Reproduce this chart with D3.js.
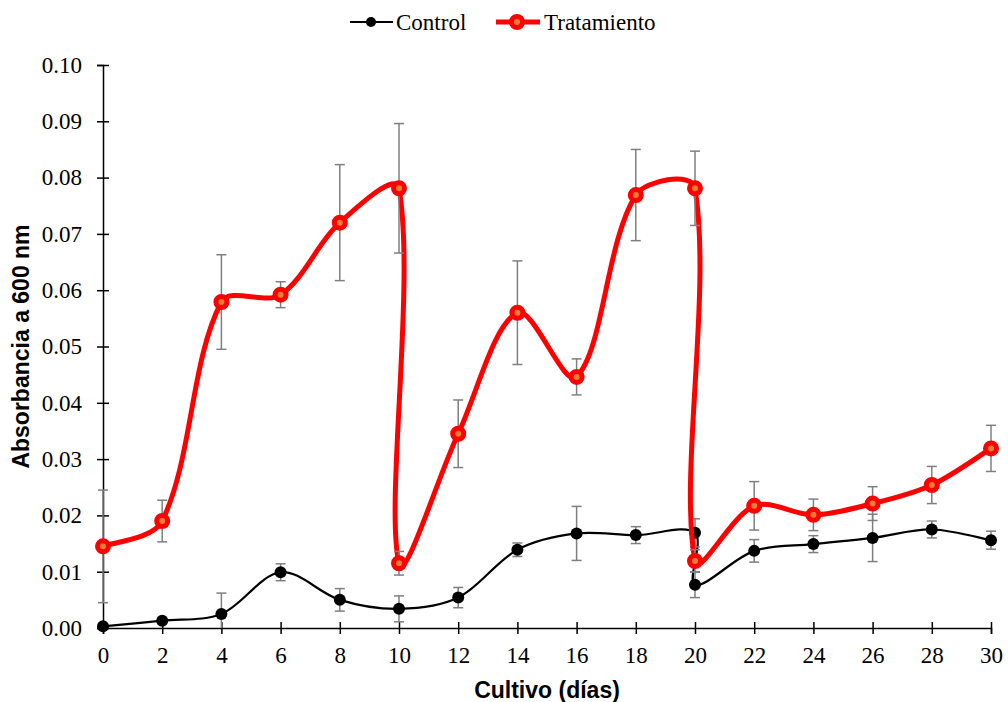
<!DOCTYPE html>
<html>
<head>
<meta charset="utf-8">
<script src="https://cdn.jsdelivr.net/npm/d3@7"></script>
<style>
  body { margin: 0; background: #fff; }
</style>
</head>
<body>
<div id="chart"></div>
<script>
// data
var ctrlDays = [0, 2, 4, 6, 8, 10, 12, 14, 16, 18, 20, 20, 22, 24, 26, 28, 30];
var ctrlValues = [0.0003, 0.0013, 0.0025, 0.0099, 0.0050, 0.0034, 0.0054, 0.0139, 0.0168, 0.0165, 0.0169, 0.0077, 0.0137, 0.0149, 0.0160, 0.0175, 0.0156];
var ctrlErrors = [0.0000, 0.0005, 0.0037, 0.0015, 0.0020, 0.0023, 0.0018, 0.0012, 0.0048, 0.0015, 0.0025, 0.0023, 0.0020, 0.0015, 0.0042, 0.0015, 0.0016];

var trtDays = [0, 2, 4, 6, 8, 10, 10, 12, 14, 16, 18, 20, 20, 22, 24, 26, 28, 30];
var trtValues = [0.0145, 0.0190, 0.0579, 0.0592, 0.0720, 0.0781, 0.0115, 0.0345, 0.0560, 0.0446, 0.0769, 0.0781, 0.0119, 0.0217, 0.0201, 0.0221, 0.0254, 0.0319];
var trtErrors = [0.0100, 0.0037, 0.0084, 0.0023, 0.0103, 0.0115, 0.0021, 0.0060, 0.0092, 0.0032, 0.0081, 0.0066, 0.0020, 0.0043, 0.0028, 0.0030, 0.0033, 0.0041];

var xTicks = d3.range(0, 31, 2);
var yTicks = d3.range(0, 0.1001, 0.01);

var serif = "'Liberation Serif', 'Times New Roman', 'DejaVu Serif', serif";
var sans = "'Liberation Sans', Arial, sans-serif";

var svgWidth = 1008;
var svgHeight = 702;
var margin = { top: 65, right: 17, bottom: 74, left: 103 };
var width = svgWidth - margin.left - margin.right;
var height = svgHeight - margin.top - margin.bottom;

var svg = d3.select("#chart")
    .append("svg")
    .attr("width", svgWidth)
    .attr("height", svgHeight);

var chart = svg.append("g")
    .attr("transform", `translate(${margin.left}, ${margin.top})`);

var x = d3.scaleLinear().domain([0, 30]).range([0, width]);
var y = d3.scaleLinear().domain([0, 0.10]).range([height, 0]);

// axes, ticks cross the line
var yAxis = chart.append("g")
    .call(d3.axisLeft(y).tickValues(yTicks).tickFormat(d3.format(".2f")).tickSize(6).tickPadding(15));
yAxis.selectAll(".tick line").attr("x2", 6).attr("x1", -6);

var xAxis = chart.append("g")
    .attr("transform", `translate(0, ${height})`)
    .call(d3.axisBottom(x).tickValues(xTicks).tickSize(6).tickPadding(13));
xAxis.selectAll(".tick line").attr("y1", -6).attr("y2", 6);

[yAxis, xAxis].forEach(function(a) {
    a.attr("font-family", null).attr("font-size", null);
    a.select(".domain").attr("stroke", "#000").attr("stroke-width", 1.5);
    a.selectAll(".tick line").attr("stroke", "#000").attr("stroke-width", 1.5);
    a.selectAll(".tick text")
        .style("font-family", serif)
        .style("font-size", "23px")
        .attr("fill", "#000");
});

function makeSeries(days, vals, errs) {
    return days.map(function(d, i) { return { day: d, v: vals[i], e: errs[i] }; });
}
var control = makeSeries(ctrlDays, ctrlValues, ctrlErrors);
var treatment = makeSeries(trtDays, trtValues, trtErrors);

// excel-like smoothed line: bezier handles scaled by neighbouring segment lengths
function smoothPath(data) {
    var p = data.map(d => [x(d.day), y(d.v)]);
    var n = p.length;
    var dist = (a, b) => Math.hypot(b[0] - a[0], b[1] - a[1]);
    var handles = p.map(function(pt, i) {
        var prev = p[Math.max(i - 1, 0)], next = p[Math.min(i + 1, n - 1)];
        var tx = next[0] - prev[0], ty = next[1] - prev[1];
        var d1 = i > 0 ? dist(prev, pt) : 0;
        var d2 = i < n - 1 ? dist(pt, next) : 0;
        var s = d1 + d2 || 1;
        var kin = (i > 0 && i < n - 1) ? d1 / s / 3 : 1 / 6;
        var kout = (i > 0 && i < n - 1) ? d2 / s / 3 : 1 / 6;
        return {
            inn: [pt[0] - tx * kin, pt[1] - ty * kin],
            out: [pt[0] + tx * kout, pt[1] + ty * kout]
        };
    });
    var path = d3.path();
    path.moveTo(p[0][0], p[0][1]);
    for (var i = 1; i < n; i++) {
        var c1 = handles[i - 1].out, c2 = handles[i].inn;
        path.bezierCurveTo(c1[0], c1[1], c2[0], c2[1], p[i][0], p[i][1]);
    }
    return path.toString();
}

function drawErrors(data) {
    var g = chart.append("g").attr("stroke", "#7f7f7f").attr("stroke-width", 1.5);
    data.filter(d => d.e > 0).forEach(function(d) {
        var cx = x(d.day), top = y(d.v + d.e);
        var low = d.v - d.e, bot = y(Math.max(low, 0));
        g.append("line").attr("x1", cx).attr("x2", cx).attr("y1", top).attr("y2", bot);
        g.append("line").attr("x1", cx - 5).attr("x2", cx + 5).attr("y1", top).attr("y2", top);
        if (low >= 0) {
            g.append("line").attr("x1", cx - 5).attr("x2", cx + 5).attr("y1", bot).attr("y2", bot);
        }
    });
}

// control series
chart.append("path")
    .attr("d", smoothPath(control)).attr("fill", "none").attr("stroke", "#000").attr("stroke-width", 2.2);
drawErrors(control);
chart.selectAll(".ctrlDot").data(control).enter().append("circle")
    .attr("class", "ctrlDot")
    .attr("cx", d => x(d.day)).attr("cy", d => y(d.v))
    .attr("r", 6).attr("fill", "#000");

// treatment series
chart.append("path")
    .attr("d", smoothPath(treatment)).attr("fill", "none").attr("stroke", "#ff0000").attr("stroke-width", 5);
drawErrors(treatment);
chart.selectAll(".trtDot").data(treatment).enter().append("circle")
    .attr("class", "trtDot")
    .attr("cx", d => x(d.day)).attr("cy", d => y(d.v))
    .attr("r", 5.5).attr("fill", "#ed7d31").attr("stroke", "#ff0000").attr("stroke-width", 5);

// axis titles
svg.append("text")
    .attr("transform", `translate(29, ${margin.top + height / 2}) rotate(-90)`)
    .attr("text-anchor", "middle")
    .style("font-family", sans).style("font-weight", "bold").style("font-size", "23px")
    .text("Absorbancia a 600 nm");

svg.append("text")
    .attr("x", margin.left + width / 2)
    .attr("y", 698)
    .attr("text-anchor", "middle")
    .style("font-family", sans).style("font-weight", "bold").style("font-size", "23px")
    .text("Cultivo (días)");

// legend
var legend = svg.append("g");
legend.append("line").attr("x1", 350).attr("x2", 393).attr("y1", 22).attr("y2", 22)
    .attr("stroke", "#000").attr("stroke-width", 2.2);
legend.append("circle").attr("cx", 371).attr("cy", 22).attr("r", 5).attr("fill", "#000");
legend.append("text").attr("x", 396).attr("y", 30)
    .style("font-family", serif).style("font-size", "23px").text("Control");

legend.append("line").attr("x1", 496).attr("x2", 540).attr("y1", 22).attr("y2", 22)
    .attr("stroke", "#ff0000").attr("stroke-width", 5);
legend.append("circle").attr("cx", 517).attr("cy", 22).attr("r", 5.5)
    .attr("fill", "#ed7d31").attr("stroke", "#ff0000").attr("stroke-width", 5);
legend.append("text").attr("x", 544).attr("y", 30)
    .style("font-family", serif).style("font-size", "23px").text("Tratamiento");
</script>
</body>
</html>
